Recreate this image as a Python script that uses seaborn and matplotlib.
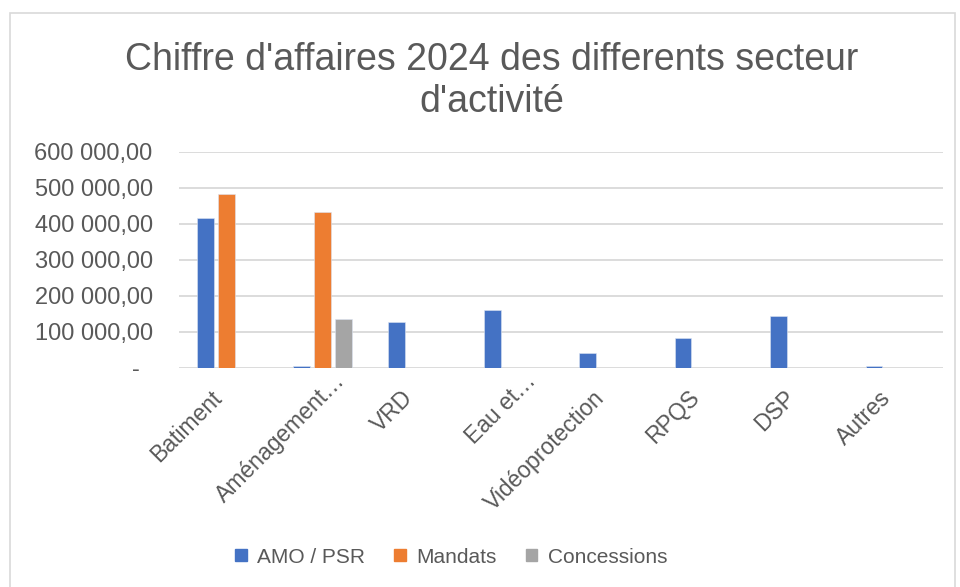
import matplotlib.pyplot as plt
import matplotlib.ticker as mticker
import matplotlib.transforms as mtransforms
from matplotlib.patches import Rectangle
import seaborn as sns
import pandas as pd

# Data
secteurs = ["Batiment", "Aménagement…", "VRD", "Eau et…", "Vidéoprotection", "RPQS", "DSP", "Autres"]
amo_psr = [415000, 5000, 127000, 160000, 40000, 82000, 144000, 6000]
mandats = [482000, 432000, 0, 0, 0, 0, 0, 0]
concessions = [0, 135000, 0, 0, 0, 0, 0, 0]
series = ["AMO / PSR", "Mandats", "Concessions"]
couleurs = ["#4472C4", "#ED7D31", "#A5A5A5"]

df = pd.DataFrame({
    "secteur": secteurs * 3,
    "serie": [series[0]] * 8 + [series[1]] * 8 + [series[2]] * 8,
    "valeur": amo_psr + mandats + concessions,
})

sns.set_style("white")
plt.rcParams['font.family'] = ['Liberation Sans', 'DejaVu Sans']
grey = "#595959"

fig = plt.figure(figsize=(9.6, 5.87), dpi=100)
ax = fig.add_axes([0.1865, 0.3736, 0.7955, 0.368])

sns.barplot(data=df, x="secteur", y="valeur", hue="serie", palette=couleurs,
            width=0.66, gap=0.2, edgecolor="#DCE4F2", linewidth=0.4,
            saturation=1, legend=False, ax=ax)

ax.set_ylim(0, 600000)
ax.set_xlim(-0.5, 7.5)
ax.yaxis.set_major_locator(mticker.MultipleLocator(100000))
ax.yaxis.set_major_formatter(mticker.FuncFormatter(
    lambda v, p: "-  " if v == 0 else f"{v:,.2f}".replace(",", " ").replace(".", ",")))
ax.grid(axis="y", color="#D9D9D9", linewidth=1.3)
ax.set_axisbelow(True)
sns.despine(ax=ax, left=True, bottom=True, top=True, right=True)
ax.set_xlabel("")
ax.set_ylabel("")
ax.tick_params(axis="y", length=0, pad=19, labelsize=17, labelcolor=grey)
ax.tick_params(axis="x", length=0, pad=12, labelsize=16.5, labelcolor=grey)

# truncated labels sit further up-right in the original (Excel keeps the full label position)
for lab in ax.get_xticklabels():
    if lab.get_text().endswith("…"):
        offset = mtransforms.ScaledTranslation(0.19, 0.07, fig.dpi_scale_trans)
    else:
        offset = mtransforms.ScaledTranslation(-0.08, -0.1, fig.dpi_scale_trans)
    lab.set_rotation(45)
    lab.set_ha("right")
    lab.set_va("center")
    lab.set_rotation_mode("anchor")
    lab.set_transform(lab.get_transform() + offset)

fig.text(0.5125, 0.862, "Chiffre d'affaires 2024 des differents secteur\nd'activité",
         ha="center", va="center", fontsize=27, color=grey, linespacing=1.2)

handles = [Rectangle((0, 0), 1, 1, color=c) for c in couleurs]
fig.legend(handles, series, loc="center", bbox_to_anchor=(0.47, 0.051), ncol=3,
           frameon=False, fontsize=15, labelcolor=grey, handlelength=0.55,
           handleheight=0.55, handletextpad=0.5, columnspacing=1.4)

fig.patches.append(Rectangle((10 / 960, -0.01), 945 / 960, 1 - 13 / 587 + 0.01,
                             transform=fig.transFigure, fill=False,
                             edgecolor="#D9D9D9", linewidth=1.2))

plt.savefig("out.png", dpi=100)
plt.close()
